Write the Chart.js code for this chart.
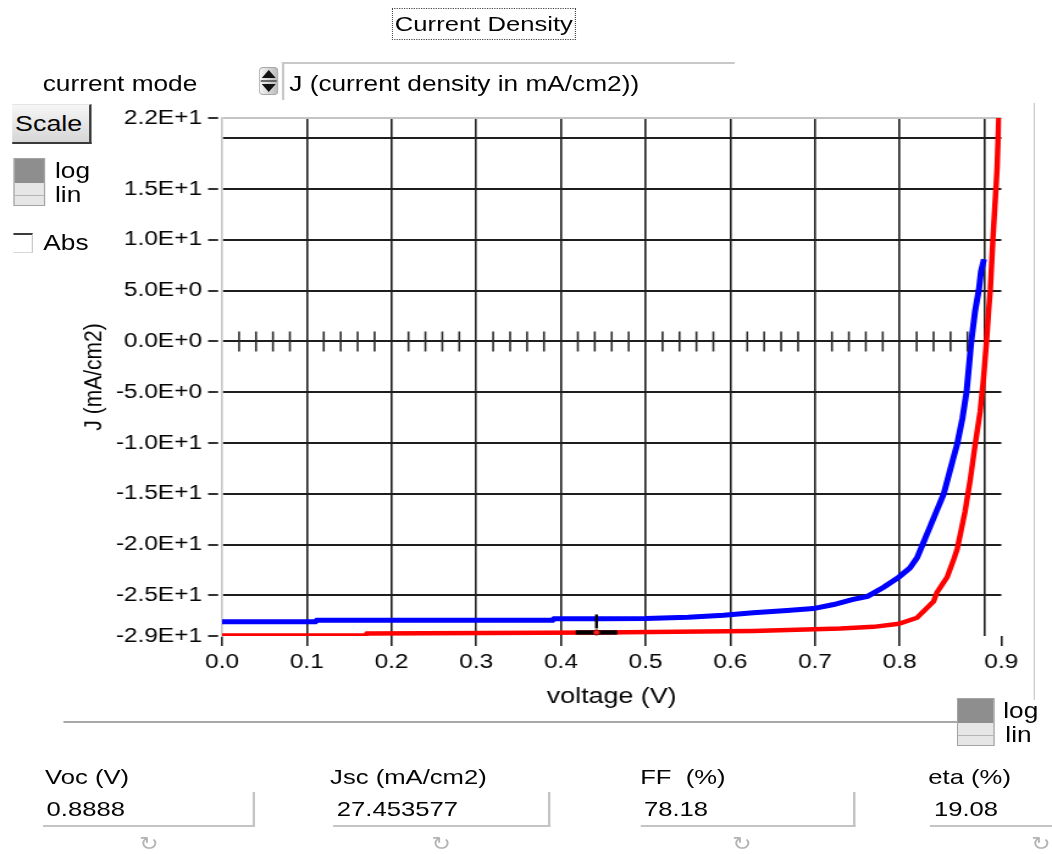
<!DOCTYPE html>
<html>
<head>
<meta charset="utf-8">
<title>Current Density</title>
<script src="https://cdn.jsdelivr.net/npm/chart.js@4/dist/chart.umd.min.js"></script>
<style>
  html, body { margin: 0; padding: 0; background: #fff; }
  body { width: 1052px; height: 854px; overflow: hidden; position: relative; }
  /* panel is laid out narrow, then widened to the window like the original dialog */
  #panel { position: absolute; left: 0; top: 0; width: 862px; height: 854px;
           transform: scaleX(1.2204); transform-origin: 0 0;
           font-family: "Liberation Sans", Arial, sans-serif; color: #050505; }
  #panel > div, #panel > svg, #panel > canvas { position: absolute; }
  .txt { font-size: 21.5px; line-height: 26px; white-space: nowrap; }
  .toggle { border: 1px solid #a4a4a4; box-sizing: border-box; background: #e6e6e6; }
  .toggle .on { position: absolute; left: 0; top: 0; right: 0; height: 24px; background: #8e8e8e; }
  .toggle .mid { position: absolute; left: 0; right: 0; top: 36px; height: 1px; background: #b4b4b4; }
  .field { top: 792px; height: 35px; box-sizing: border-box;
           border-right: 2px solid #c4c4c4; border-bottom: 2px solid #c4c4c4;
           font-size: 21px; line-height: 34px; padding-left: 3px; }
  .lbl { top: 764px; font-size: 21px; line-height: 26px; white-space: nowrap; }
  .curl { top: 831px; font-family: "DejaVu Sans", sans-serif; font-size: 19px; line-height: 24px; color: #b4b4b4; }
</style>
</head>
<body>
<div id="panel">
  <canvas id="jv" width="862" height="854" style="left:0;top:0"></canvas>

  <div style="left:321px;top:8px;width:151px;height:32px;border:1px dotted #444;box-sizing:border-box;
              text-align:center;font-size:21px;line-height:30px;">Current Density</div>

  <div class="txt" style="left:35px;top:71px;">current mode</div>
  <svg style="left:211.5px;top:67px" width="16.4" height="28" viewBox="0 0 20 28" preserveAspectRatio="none">
    <defs>
      <linearGradient id="spin" x1="0" y1="0" x2="1" y2="0">
        <stop offset="0" stop-color="#f6f6f6"/><stop offset="1" stop-color="#b8b8b8"/>
      </linearGradient>
    </defs>
    <rect x="0.5" y="0.5" width="19" height="27" rx="4" fill="url(#spin)" stroke="#a8a8a8"/>
    <path d="M3 11 L10 3 L17 11 Z" fill="#111"/>
    <path d="M3 17 L10 25 L17 17 Z" fill="#111"/>
    <line x1="2" y1="14" x2="18" y2="14" stroke="#444" stroke-width="1.6"/>
  </svg>
  <div class="txt" style="left:231px;top:62px;width:371px;height:38px;box-sizing:border-box;
              border-top:2px solid #c8c8c8;border-left:2px solid #c8c8c8;padding:7px 0 0 4px;">J (current density in mA/cm2))</div>

  <div style="left:9.8px;top:104px;width:65.6px;height:40px;box-sizing:border-box;
              background:linear-gradient(#f6f6f6,#d6d6d6);border-top:1px solid #e4e4e4;
              border-right:2px solid #3a3a3a;border-bottom:2px solid #3a3a3a;
              text-align:right;padding-right:6px;font-size:22px;line-height:37px;">Scale</div>

  <div class="toggle" style="left:10.7px;top:158px;width:26.2px;height:48px;"><div class="on"></div><div class="mid"></div></div>
  <div class="txt" style="left:45.1px;top:158px;">log</div>
  <div class="txt" style="left:45.1px;top:182px;">lin</div>

  <div style="left:10.7px;top:233px;width:16.4px;height:20px;box-sizing:border-box;
              border-top:2px solid #3c3c3c;border-right:1px solid #c8c8c8;border-bottom:1px solid #d8d8d8;"></div>
  <div class="txt" style="left:35.5px;top:230px;">Abs</div>

  <div style="left:846.7px;top:103px;width:1.6px;height:597px;background:#c8c8c8;"></div>
  <div style="left:51.6px;top:721px;width:733.6px;height:2px;background:#a8a8a8;"></div>

  <div class="toggle" style="left:784.4px;top:698px;width:31.1px;height:48px;"><div class="on"></div><div class="mid"></div></div>
  <div class="txt" style="left:822.1px;top:698px;">log</div>
  <div class="txt" style="left:823.8px;top:722px;">lin</div>

  <div class="lbl" style="left:36.9px;">Voc (V)</div>
  <div class="lbl" style="left:270.5px;">Jsc (mA/cm2)</div>
  <div class="lbl" style="left:524.6px;">FF&nbsp; (%)</div>
  <div class="lbl" style="left:760.7px;">eta (%)</div>

  <div class="field" style="left:35.2px;width:173.8px;">0.8888</div>
  <div class="field" style="left:273px;width:177.9px;">27.453577</div>
  <div class="field" style="left:524.6px;width:176.2px;">78.18</div>
  <div class="field" style="left:762.3px;width:140px;">19.08</div>

  <div class="curl" style="left:114px;">↻</div>
  <div class="curl" style="left:353.5px;">↻</div>
  <div class="curl" style="left:600px;">↻</div>
  <div class="curl" style="left:845px;">↻</div>
</div>

<script>
// J-V sweep, red curve
const voltageRed = [0, 0.169, 0.171, 0.447, 0.627, 0.730, 0.769, 0.799, 0.8205, 0.840, 0.844, 0.856,
                    0.864, 0.868, 0.877, 0.8835, 0.889, 0.895, 0.899, 0.9025, 0.905, 0.907, 0.910, 0.913, 0.915, 0.917];
const currentRed = [-28.95, -28.95, -28.75, -28.66, -28.5, -28.26, -28.1, -27.8, -27.2, -25.6, -24.7, -23.2,
                    -21.4, -20.4, -16.8, -13.5, -10.2, -6.9, -3.6, 0, 3.0, 5.1, 10.0, 14.2, 17.1, 22];

// J-V sweep, blue curve
const voltageBlue = [0, 0.110, 0.112, 0.390, 0.392, 0.447, 0.500, 0.550, 0.592, 0.627, 0.667, 0.698, 0.722,
                     0.745, 0.762, 0.781, 0.799, 0.812, 0.8205, 0.826, 0.838, 0.852, 0.860, 0.868, 0.874, 0.879,
                     0.8845, 0.889, 0.8935, 0.896, 0.8995];
const currentBlue = [-27.6, -27.6, -27.45, -27.45, -27.3, -27.3, -27.27, -27.15, -26.95, -26.7, -26.5, -26.3, -25.9,
                     -25.4, -25.1, -24.2, -23.2, -22.3, -21.3, -20.2, -17.8, -15.0, -12.5, -10.05, -7.6, -4.9,
                     0.0, 3.0, 5.1, 6.9, 8.1];

// cursor position on the red curve
const cursorVoltage = 0.442;
const cursorCurrent = -28.65;

const voltageTicks = [0, 0.1, 0.2, 0.3, 0.4, 0.5, 0.6, 0.7, 0.8, 0.9, 0.92];
const voltageLabels = ['0.0', '0.1', '0.2', '0.3', '0.4', '0.5', '0.6', '0.7', '0.8', '', '0.9'];
const currentTicks = [-29, -25, -20, -15, -10, -5, 0, 5, 10, 15, 20, 22];
const currentLabels = ['-2.9E+1', '-2.5E+1', '-2.0E+1', '-1.5E+1', '-1.0E+1', '-5.0E+0',
                       '0.0E+0', '5.0E+0', '1.0E+1', '1.5E+1', '', '2.2E+1'];

const toPoints = (xs, ys) => xs.map((v, i) => ({ x: v, y: ys[i] }));

// little tick marks along the J = 0 line, every 0.02 V between grid lines
const zeroMarks = [];
for (let k = 1; k < 45; k++) {
  if (k % 5 !== 0) zeroMarks.push({ x: k * 0.02, y: 0 });
}

const gridDark = '#1e1e1e';
const textColor = '#050505';
const ui = { family: '"Liberation Sans", Arial, sans-serif' };

const cursorPlugin = {
  id: 'cursor',
  afterDatasetsDraw(chart) {
    const { ctx, scales: { x, y } } = chart;
    const px = x.getPixelForValue(cursorVoltage);
    const py = y.getPixelForValue(cursorCurrent);
    ctx.save();
    ctx.fillStyle = '#000';
    ctx.fillRect(px - 17, py - 2.2, 34, 4.4);
    ctx.fillRect(px - 1.2, py - 18, 2.4, 14);
    ctx.beginPath();
    ctx.arc(px, py, 2.6, 0, Math.PI * 2);
    ctx.fillStyle = '#ff2020';
    ctx.fill();
    ctx.lineWidth = 1;
    ctx.strokeStyle = '#7a0000';
    ctx.stroke();
    ctx.restore();
  }
};

new Chart(document.getElementById('jv'), {
  type: 'scatter',
  data: {
    datasets: [
      {
        data: zeroMarks,
        pointStyle: 'line',
        rotation: 90,
        pointRadius: 10,
        pointBorderWidth: 1.6,
        pointBorderColor: '#2a2a2a',
        showLine: false
      },
      {
        data: toPoints(voltageRed, currentRed),
        showLine: true,
        borderColor: '#ff0000',
        borderWidth: 4.5,
        pointRadius: 0,
        tension: 0
      },
      {
        data: toPoints(voltageBlue, currentBlue),
        showLine: true,
        borderColor: '#0000ff',
        borderWidth: 5,
        pointRadius: 0,
        tension: 0
      }
    ]
  },
  options: {
    responsive: false,
    animation: false,
    events: [],
    layout: { padding: { left: 60, top: 118, right: 41.5, bottom: 138 } },
    plugins: { legend: { display: false }, tooltip: { enabled: false } },
    scales: {
      x: {
        type: 'linear',
        min: 0,
        max: 0.92,
        afterBuildTicks: (s) => { s.ticks = voltageTicks.map(v => ({ value: v })); },
        afterFit: (s) => { s.height = 80; },
        ticks: {
          autoSkip: false,
          maxRotation: 0,
          padding: 4,
          color: textColor,
          font: { ...ui, size: 20 },
          callback: (v, i) => voltageLabels[i]
        },
        grid: {
          lineWidth: 1.6,
          tickLength: 10,
          tickWidth: 1.6,
          color: (c) => (c.index === 0 || c.index === voltageTicks.length - 1) ? 'rgba(0,0,0,0)' : gridDark,
          tickColor: (c) => voltageLabels[c.index] === '' ? 'rgba(0,0,0,0)' : gridDark
        },
        border: { display: false },
        title: {
          display: true,
          text: 'voltage (V)',
          color: textColor,
          font: { ...ui, size: 22 },
          padding: { top: 0, bottom: 6 }
        }
      },
      y: {
        type: 'linear',
        min: -29,
        max: 22,
        afterBuildTicks: (s) => { s.ticks = currentTicks.map(v => ({ value: v })); },
        afterFit: (s) => { s.width = 122; },
        ticks: {
          autoSkip: false,
          padding: 5,
          color: textColor,
          font: { ...ui, size: 20 },
          callback: (v, i) => currentLabels[i]
        },
        grid: {
          lineWidth: 2,
          tickLength: 11.5,
          tickWidth: 2,
          tickBorderDash: [8.2, 50],
          color: (c) => c.index === 0 ? 'rgba(0,0,0,0)'
                      : c.index === currentTicks.length - 1 ? '#c4c4c4' : gridDark,
          tickColor: (c) => currentLabels[c.index] === '' ? 'rgba(0,0,0,0)' : '#333'
        },
        border: { display: true, color: '#c4c4c4', width: 1.6 },
        title: {
          display: true,
          text: 'J (mA/cm2)',
          color: textColor,
          font: { ...ui, size: 21 },
          padding: { top: 5, bottom: 0 }
        }
      }
    }
  },
  plugins: [cursorPlugin]
});
</script>
</body>
</html>
